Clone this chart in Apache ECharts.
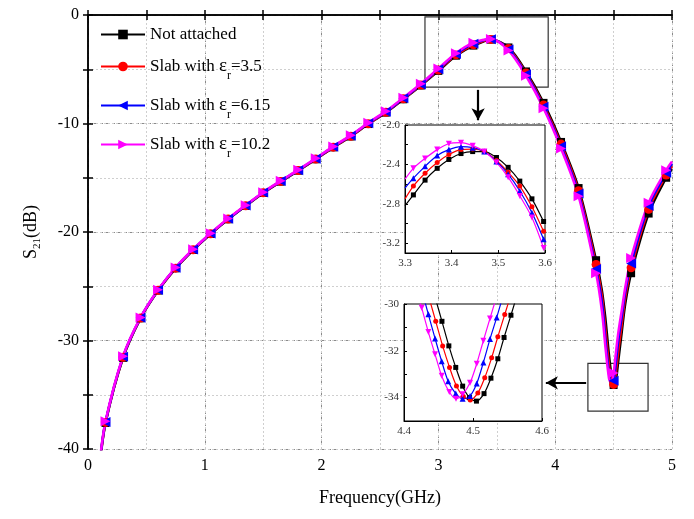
<!DOCTYPE html>
<html><head><meta charset="utf-8">
<script src="https://cdn.jsdelivr.net/npm/echarts@6/dist/echarts.min.js"></script>
<style>html,body{margin:0;padding:0;background:#fff}#c{width:694px;height:519px}</style>
</head><body><div id="c"></div>
<script>
// ---------- DATA ----------
const seriesNames = ['Not attached', 'Slab with εr=3.5', 'Slab with εr=6.15', 'Slab with εr=10.2'];
const epsValues = ['', '3.5', '6.15', '10.2'];
const colors = ['#000000', '#ff0000', '#0000ff', '#ff00ff'];

const xTicks = [0, 1, 2, 3, 4, 5];
const yTicks = [-40, -30, -20, -10, 0];

// main plot frequencies (GHz)
const freqMain = [0.10, 0.15, 0.30, 0.45, 0.60, 0.75, 0.90, 1.05, 1.20, 1.35, 1.50, 1.65, 1.80, 1.95, 2.10, 2.25, 2.40, 2.55, 2.70, 2.85, 3.00, 3.15, 3.30, 3.45, 3.60, 3.75, 3.90, 4.05, 4.20, 4.35, 4.40, 4.43, 4.46, 4.48, 4.50, 4.52, 4.54, 4.57, 4.60, 4.65, 4.80, 4.95, 5.00];
const notAttached = [-41.5, -37.6, -31.6, -27.96, -25.4, -23.35, -21.66, -20.18, -18.83, -17.6, -16.4, -15.36, -14.35, -13.3, -12.2, -11.2, -10.05, -9.0, -7.77, -6.5, -5.15, -3.75, -2.82, -2.27, -2.99, -5.2, -8.1, -11.7, -15.95, -22.6, -25.4, -28.0, -31.3, -33.1, -34.1, -33.6, -31.9, -29.2, -26.6, -23.8, -18.3, -15.0, -14.2];
const slab35 = [-41.4, -37.55, -31.55, -27.93, -25.38, -23.33, -21.64, -20.16, -18.81, -17.58, -16.38, -15.34, -14.33, -13.28, -12.18, -11.17, -10.02, -8.96, -7.73, -6.45, -5.08, -3.68, -2.75, -2.25, -3.09, -5.35, -8.3, -11.9, -16.2, -23.0, -25.9, -29.0, -32.2, -33.7, -34.05, -32.9, -31.0, -28.5, -26.0, -23.3, -17.9, -14.75, -13.95];
const slab615 = [-41.3, -37.5, -31.5, -27.9, -25.35, -23.3, -21.62, -20.14, -18.79, -17.56, -16.36, -15.31, -14.3, -13.25, -12.15, -11.13, -9.98, -8.92, -7.68, -6.4, -5.0, -3.6, -2.64, -2.23, -3.17, -5.45, -8.45, -12.1, -16.45, -23.4, -26.5, -29.9, -32.95, -33.95, -33.7, -32.0, -30.0, -27.8, -25.5, -22.9, -17.6, -14.55, -13.7];
const slab102 = [-41.2, -37.45, -31.45, -27.87, -25.32, -23.27, -21.59, -20.11, -18.76, -17.53, -16.33, -15.28, -14.27, -13.21, -12.11, -11.09, -9.93, -8.87, -7.62, -6.33, -4.93, -3.52, -2.55, -2.21, -3.27, -5.6, -8.6, -12.3, -16.7, -23.8, -27.3, -30.6, -33.45, -34.0, -33.0, -31.1, -29.3, -27.2, -25.1, -22.4, -17.3, -14.3, -13.5];

// inset 1 (3.3 - 3.6 GHz)
const inset1Freq = [3.300, 3.318, 3.343, 3.369, 3.394, 3.420, 3.445, 3.470, 3.496, 3.521, 3.546, 3.572, 3.597];
const inset1NotAttached = [-2.82, -2.71, -2.56, -2.44, -2.35, -2.29, -2.27, -2.27, -2.33, -2.43, -2.57, -2.75, -2.98];
const inset1Slab35 = [-2.75, -2.62, -2.49, -2.38, -2.30, -2.25, -2.245, -2.27, -2.36, -2.48, -2.62, -2.83, -3.08];
const inset1Slab615 = [-2.64, -2.54, -2.42, -2.31, -2.25, -2.22, -2.23, -2.27, -2.37, -2.50, -2.67, -2.89, -3.16];
const inset1Slab102 = [-2.55, -2.44, -2.34, -2.25, -2.19, -2.18, -2.21, -2.27, -2.38, -2.53, -2.72, -2.94, -3.25];
const inset1YLabels = [-3.2, -2.8, -2.4, -2.0];
const inset1YTicks = [-3.2, -3.0, -2.8, -2.6, -2.4, -2.2, -2.0];

// inset 2 (4.4 - 4.6 GHz)
const inset2FreqNotAttached = [4.445, 4.455, 4.465, 4.475, 4.485, 4.495, 4.505, 4.516, 4.526, 4.536, 4.545, 4.555, 4.565];
const inset2NotAttached = [-29.7, -30.74, -31.79, -32.71, -33.51, -34.0, -34.15, -33.83, -33.17, -32.34, -31.43, -30.48, -29.5];
const inset2FreqSlab35 = [4.436, 4.446, 4.456, 4.466, 4.476, 4.486, 4.496, 4.507, 4.517, 4.527, 4.536, 4.546, 4.556];
const inset2Slab35 = [-29.7, -30.74, -31.79, -32.71, -33.5, -33.95, -34.1, -33.8, -33.15, -32.3, -31.4, -30.45, -29.5];
const inset2FreqSlab615 = [4.4256, 4.4353, 4.445, 4.4546, 4.464, 4.475, 4.485, 4.4957, 4.5054, 4.515, 4.5246, 4.5343, 4.544];
const inset2Slab615 = [-29.4, -30.44, -31.47, -32.45, -33.3, -33.83, -34.05, -33.93, -33.4, -32.5, -31.5, -30.58, -29.6];
const inset2FreqSlab102 = [4.416, 4.4256, 4.4353, 4.445, 4.4546, 4.4657, 4.4754, 4.485, 4.4957, 4.5054, 4.515, 4.5246, 4.534];
const inset2Slab102 = [-29.1, -30.16, -31.2, -32.15, -33.07, -33.76, -34.05, -33.86, -33.37, -32.55, -31.57, -30.62, -29.7];
const inset2YLabels = [-34, -32, -30];
const inset2YTicks = [-35, -34, -33, -32, -31, -30];

// zoom-box annotations (data units)
const zoomBox1 = [[2.885, -0.18], [3.94, -6.64]];
const zoomBox2 = [[4.28, -32.1], [4.795, -36.5]];
const arrow1 = [[3.34, -6.9], [3.34, -9.7]];
const arrow2 = [[4.265, -33.9], [3.92, -33.9]];

// ---------- CHART ----------
const FONT = '"Liberation Serif", "Times New Roman", serif';
const mainVals = [notAttached, slab35, slab615, slab102];
const inset1Vals = [inset1NotAttached, inset1Slab35, inset1Slab615, inset1Slab102];
const inset2X = [inset2FreqNotAttached, inset2FreqSlab35, inset2FreqSlab615, inset2FreqSlab102];
const inset2Vals = [inset2NotAttached, inset2Slab35, inset2Slab615, inset2Slab102];
const mainSymbols = [['rect', 0, 8], ['circle', 0, 9], ['triangle', 90, 10], ['triangle', -90, 10]];
const insetSymbols = [['rect', 0, 5], ['circle', 0, 5], ['triangle', 0, 6], ['triangle', 180, 6]];

function mainData(vals) {
  return freqMain.map((f, i) => {
    const k = f / 0.15;
    const mark = Math.abs(k - Math.round(k)) < 1e-6;
    return mark ? [f, vals[i]] : { value: [f, vals[i]], symbol: 'none' };
  });
}

const series = [];
for (let s = 0; s < 4; s++) {
  const ser = {
    type: 'line', name: seriesNames[s], xAxisIndex: 0, yAxisIndex: 0,
    data: mainData(mainVals[s]), smooth: 0.3, clip: true,
    symbol: mainSymbols[s][0], symbolRotate: mainSymbols[s][1], symbolSize: mainSymbols[s][2],
    showAllSymbol: true,
    lineStyle: { color: colors[s], width: 2.5 }, itemStyle: { color: colors[s] },
    z: 2, silent: true
  };
  if (s === 0) {
    ser.markArea = {
      silent: true,
      itemStyle: { color: 'rgba(0,0,0,0)', borderColor: '#333', borderWidth: 1.2 },
      data: [
        [{ xAxis: zoomBox1[0][0], yAxis: zoomBox1[0][1] }, { xAxis: zoomBox1[1][0], yAxis: zoomBox1[1][1] }],
        [{ xAxis: zoomBox2[0][0], yAxis: zoomBox2[0][1] }, { xAxis: zoomBox2[1][0], yAxis: zoomBox2[1][1] }]
      ]
    };
    ser.markLine = {
      silent: true, symbol: ['none', 'arrow'], symbolSize: [10, 12],
      lineStyle: { color: '#000', width: 2.2, type: 'solid' }, label: { show: false },
      data: [
        [{ coord: arrow1[0] }, { coord: arrow1[1] }],
        [{ coord: arrow2[0] }, { coord: arrow2[1] }]
      ]
    };
  }
  series.push(ser);
}
for (let s = 0; s < 4; s++) {
  series.push({
    type: 'line', name: 'inset1-' + s, xAxisIndex: 3, yAxisIndex: 3,
    data: inset1Freq.map((f, i) => i === 0 ? { value: [f, inset1Vals[s][i]], symbol: 'none' } : [f, inset1Vals[s][i]]),
    smooth: 0.3, clip: true, showAllSymbol: true,
    symbol: insetSymbols[s][0], symbolRotate: insetSymbols[s][1], symbolSize: insetSymbols[s][2],
    lineStyle: { color: colors[s], width: 1.2 }, itemStyle: { color: colors[s] }, z: 5, silent: true
  });
}
for (let s = 0; s < 4; s++) {
  series.push({
    type: 'line', name: 'inset2-' + s, xAxisIndex: 4, yAxisIndex: 4,
    data: inset2X[s].map((f, i) => [f, inset2Vals[s][i]]),
    smooth: 0.3, clip: true, showAllSymbol: true,
    symbol: insetSymbols[s][0], symbolRotate: insetSymbols[s][1], symbolSize: insetSymbols[s][2],
    lineStyle: { color: colors[s], width: 1.2 }, itemStyle: { color: colors[s] }, z: 5, silent: true
  });
}

const richText = {
  t: { fontFamily: FONT, fontSize: 17, color: '#000' },
  e: { fontFamily: FONT, fontSize: 19, color: '#000' },
  s: { fontFamily: FONT, fontSize: 12, color: '#000', padding: [19, 0, 0, 0] }
};

const blackLine = { color: '#000', width: 1.5 };
const insetLabel = { fontFamily: FONT, fontSize: 11, color: '#333', margin: 5 };

const option = {
  animation: false,
  backgroundColor: '#fff',
  grid: [
    { left: 88, top: 15, right: 22, bottom: 70, show: false, z: 0 },
    { left: 405, top: 125, width: 140, height: 128, show: true, backgroundColor: '#fff', borderColor: '#000', borderWidth: 1, z: 3 },
    { left: 404, top: 304, width: 138, height: 117, show: true, backgroundColor: '#fff', borderColor: '#000', borderWidth: 1, z: 3 }
  ],
  legend: {
    orient: 'vertical', left: 95, top: 21, itemGap: 14, itemWidth: 44, itemHeight: 12,
    data: seriesNames, selectedMode: false,
    formatter: function (name) {
      const i = seriesNames.indexOf(name);
      if (i === 0) return '{t|' + name + '}';
      return '{t|Slab with }{e|ε}{s|r}{t|=' + epsValues[i] + '}';
    },
    textStyle: { fontFamily: FONT, fontSize: 17, color: '#000', rich: richText }
  },
  xAxis: [
    { gridIndex: 0, type: 'value', min: 0, max: 5, interval: 1, position: 'bottom',
      axisLine: { lineStyle: blackLine }, axisTick: { inside: false, length: 5, lineStyle: blackLine },
      axisLabel: { fontFamily: FONT, fontSize: 16, color: '#000', margin: 9, formatter: v => String(v) },
      splitLine: { show: true, lineStyle: { color: '#8a8a8a', type: [3, 3], width: 1 } },
      name: 'Frequency(GHz)', nameLocation: 'middle', nameGap: 40,
      nameTextStyle: { fontFamily: FONT, fontSize: 18, color: '#000' }, z: 0 },
    { gridIndex: 0, type: 'value', min: 0, max: 5, interval: 0.5, position: 'bottom',
      axisLine: { show: false }, axisTick: { inside: true, length: 5, lineStyle: blackLine },
      axisLabel: { show: false },
      splitLine: { show: true, lineStyle: { color: '#cfcfcf', type: [2, 2], width: 1 } }, z: 0 },
    { gridIndex: 0, type: 'value', min: 0, max: 5, interval: 0.5, position: 'top',
      axisLine: { lineStyle: blackLine }, axisTick: { inside: true, length: 5, lineStyle: blackLine },
      axisLabel: { show: false }, splitLine: { show: false }, z: 0 },
    { gridIndex: 1, type: 'value', min: 3.3, max: 3.6, interval: 0.1,
      axisLine: { lineStyle: { color: '#000', width: 1 } }, axisTick: { inside: true, length: 3 },
      axisLabel: Object.assign({ formatter: v => v.toFixed(1) }, insetLabel),
      splitLine: { show: false }, z: 4 },
    { gridIndex: 2, type: 'value', min: 4.4, max: 4.6, interval: 0.1,
      axisLine: { lineStyle: { color: '#000', width: 1 } }, axisTick: { inside: true, length: 3 },
      axisLabel: Object.assign({ formatter: v => v.toFixed(1) }, insetLabel),
      splitLine: { show: false }, z: 4 }
  ],
  yAxis: [
    { gridIndex: 0, type: 'value', min: -40, max: 0, interval: 10, position: 'left',
      axisLine: { lineStyle: blackLine }, axisTick: { inside: false, length: 5, lineStyle: blackLine },
      axisLabel: { fontFamily: FONT, fontSize: 16, color: '#000', margin: 9 },
      splitLine: { show: true, lineStyle: { color: '#8a8a8a', type: [3, 3], width: 1 } },
      name: '{t|S}{s|21}{t|(dB)}', nameLocation: 'middle', nameGap: 45, nameRotate: 90,
      nameTextStyle: { fontFamily: FONT, fontSize: 18, color: '#000', rich: {
        t: { fontFamily: FONT, fontSize: 18, color: '#000' },
        s: { fontFamily: FONT, fontSize: 11, color: '#000', padding: [12, 0, 0, 0] } } }, z: 0 },
    { gridIndex: 0, type: 'value', min: -40, max: 0, interval: 5, position: 'left',
      axisLine: { show: false }, axisTick: { inside: true, length: 5, lineStyle: blackLine },
      axisLabel: { show: false },
      splitLine: { show: true, lineStyle: { color: '#cfcfcf', type: [2, 2], width: 1 } }, z: 0 },
    { gridIndex: 0, type: 'value', min: -40, max: 0, interval: 5, position: 'right',
      axisLine: { lineStyle: blackLine }, axisTick: { inside: true, length: 5, lineStyle: blackLine },
      axisLabel: { show: false }, splitLine: { show: false }, z: 0 },
    { gridIndex: 1, type: 'value', min: -3.3, max: -2.0,
      axisLine: { lineStyle: { color: '#000', width: 1 } },
      axisTick: { inside: true, length: 3, customValues: inset1YTicks },
      axisLabel: Object.assign({ formatter: v => v.toFixed(1), customValues: inset1YLabels }, insetLabel),
      splitLine: { show: false }, z: 4 },
    { gridIndex: 2, type: 'value', min: -35, max: -30,
      axisLine: { lineStyle: { color: '#000', width: 1 } },
      axisTick: { inside: true, length: 3, customValues: inset2YTicks },
      axisLabel: Object.assign({ formatter: v => String(v), customValues: inset2YLabels }, insetLabel),
      splitLine: { show: false }, z: 4 }
  ],
  series: series
};

const chart = echarts.init(document.getElementById('c'), null, { renderer: 'canvas' });
chart.setOption(option);
</script></body></html>
